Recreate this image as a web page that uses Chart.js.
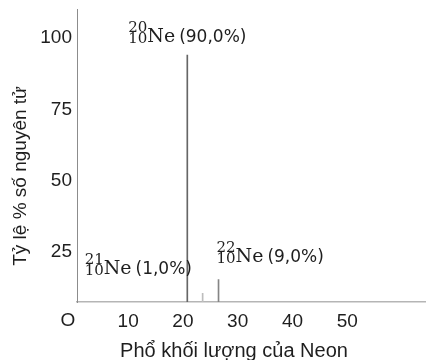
<!DOCTYPE html>
<html>
<head>
<meta charset="utf-8">
<script src="https://cdn.jsdelivr.net/npm/chart.js@4.4.1/dist/chart.umd.min.js"></script>
<style>
  html, body { margin: 0; padding: 0; background: #fff; }
</style>
</head>
<body>
<canvas id="neonChart" width="427" height="360"></canvas>
<script>
// Ne isotope peaks
const isotopeMass = ['20', '21', '22'];
const isotopeShare = ['90,0%', '1,0%', '9,0%'];
const peakPosition = [20.8, 23.6, 26.5];
const peakHeight = [94, 10.5, 15.4];
const xTicks = [10, 20, 30, 40, 50];
const yTicks = [25, 50, 75, 100];

const xTitle = 'Phổ khối lượng của Neon';
const yTitle = 'Tỷ lệ % số nguyên tử';

const peakColors = ['#666666', '#bdbdbd', '#858585'];
// where each isotope label sits, relative to the top of its peak (px)
const labelOffsets = [[-59, -13], [-118, -19], [-2, -17]];

const neonText = {
    id: 'neonText',
    afterDraw(chart) {
        const ctx = chart.ctx;
        const area = chart.chartArea;
        const meta = chart.getDatasetMeta(0);
        ctx.save();
        ctx.fillStyle = '#1e1e1e';
        ctx.textAlign = 'left';
        ctx.textBaseline = 'alphabetic';
        meta.data.forEach((bar, i) => {
            let x = bar.x + labelOffsets[i][0];
            const y = bar.y + labelOffsets[i][1];
            ctx.font = '15px "DejaVu Serif"';
            ctx.fillText(isotopeMass[i], x, y - 10);
            ctx.fillText('10', x, y + 1);
            x += 19;
            ctx.font = '19px "DejaVu Serif"';
            ctx.fillText('Ne', x, y);
            x += ctx.measureText('Ne').width + 4;
            ctx.font = '17px "DejaVu Sans"';
            ctx.fillText('(' + isotopeShare[i] + ')', x, y);
        });

        // origin mark and axis titles
        ctx.font = '19px "Liberation Sans"';
        ctx.textAlign = 'center';
        ctx.textBaseline = 'middle';
        ctx.fillText('O', area.left - 9, area.bottom + 19);

        ctx.font = '20px "Liberation Sans"';
        ctx.textBaseline = 'alphabetic';
        ctx.fillText(xTitle, 234, 357);

        ctx.font = '19px "Liberation Sans"';
        ctx.translate(26, 176);
        ctx.rotate(-Math.PI / 2);
        ctx.fillText(yTitle, 0, 0);
        ctx.restore();
    }
};

new Chart(document.getElementById('neonChart'), {
    type: 'bar',
    data: {
        datasets: [{
            data: peakPosition.map((x, i) => ({ x: x, y: peakHeight[i] })),
            backgroundColor: peakColors,
            barThickness: 1,
            borderWidth: 0
        }]
    },
    options: {
        responsive: false,
        animation: false,
        devicePixelRatio: 1,
        layout: { padding: { top: 9.5, right: 2, left: 0, bottom: 0 } },
        plugins: {
            legend: { display: false },
            tooltip: { enabled: false }
        },
        scales: {
            x: {
                type: 'linear',
                offset: false,
                min: 0.66,
                max: 64.2,
                afterBuildTicks: s => { s.ticks = xTicks.map(v => ({ value: v })); },
                afterFit: s => { s.height = 58; s.paddingLeft = 0; s.paddingRight = 0; },
                grid: { display: false, drawTicks: false, offset: false },
                border: { display: true, color: '#b5b5b5', width: 1.5 },
                ticks: {
                    color: '#1e1e1e',
                    font: { family: 'Liberation Sans', size: 19 },
                    padding: 8,
                    maxRotation: 0,
                    autoSkip: false
                }
            },
            y: {
                min: 7.5,
                max: 110,
                afterBuildTicks: s => { s.ticks = yTicks.map(v => ({ value: v })); },
                afterFit: s => { s.width = 77; s.paddingTop = 0; s.paddingBottom = 0; },
                grid: { display: false, drawTicks: false },
                border: { display: true, color: '#8c8c8c', width: 1 },
                ticks: {
                    color: '#1e1e1e',
                    font: { family: 'Liberation Sans', size: 19 },
                    padding: 5
                }
            }
        }
    },
    plugins: [neonText]
});
</script>
</body>
</html>
